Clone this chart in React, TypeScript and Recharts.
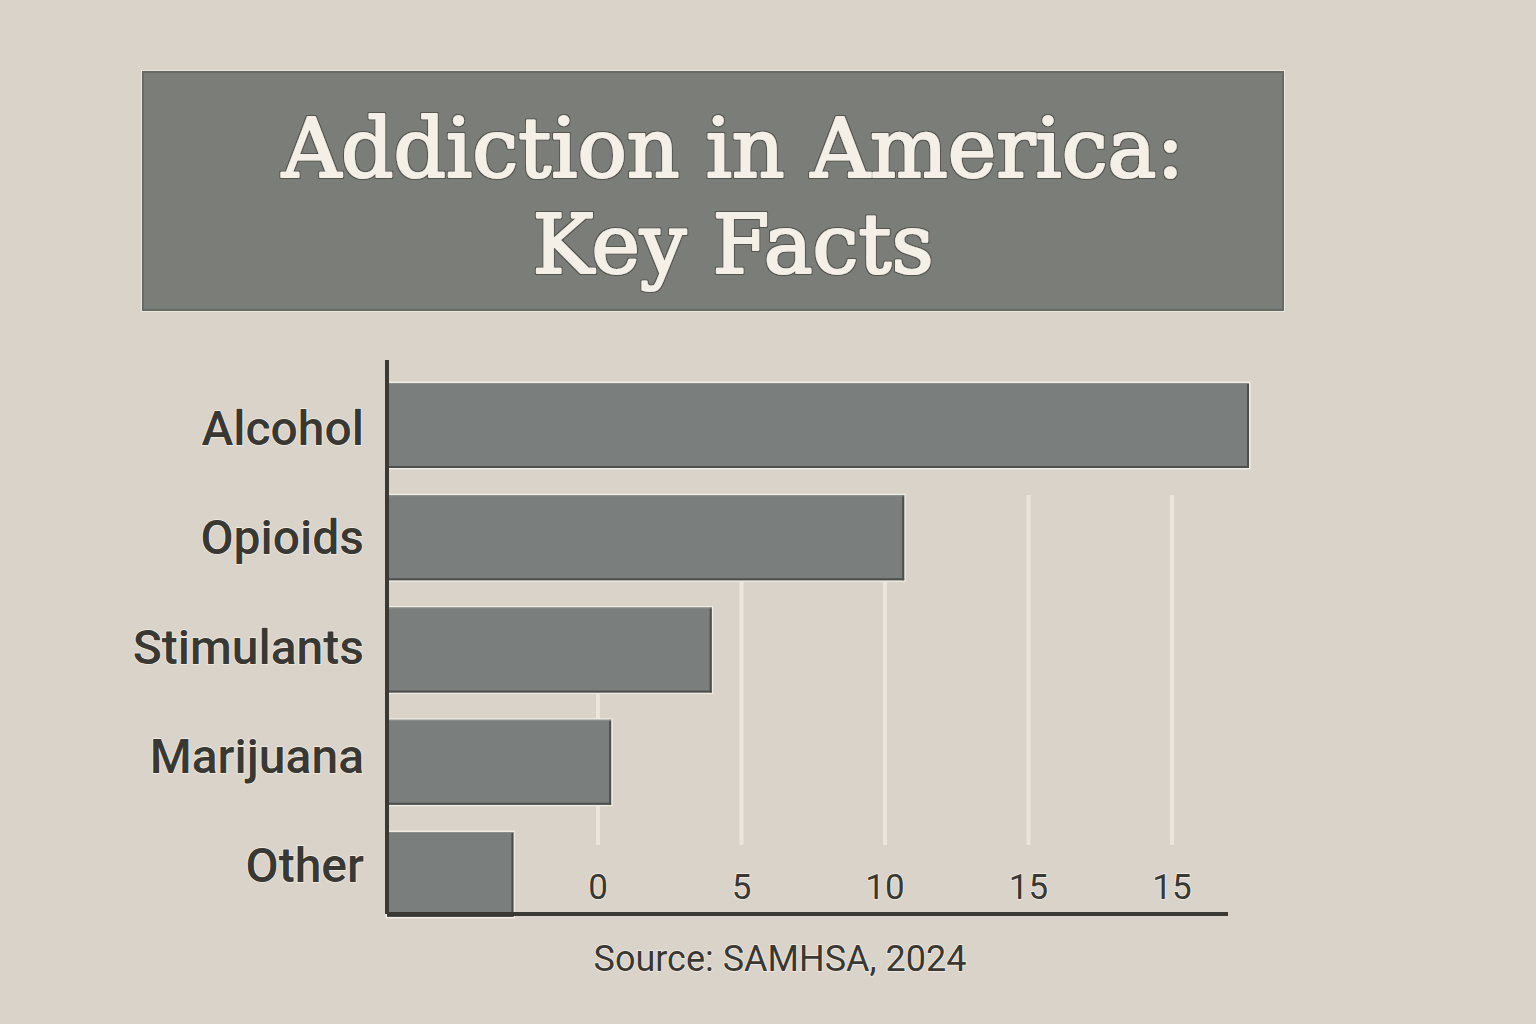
import React from 'react';
import { BarChart, Bar, XAxis, YAxis, CartesianGrid } from 'recharts';

// ---- data ----
const categories = ['Alcohol', 'Opioids', 'Stimulants', 'Marijuana', 'Other'];
const values = [30, 18, 11.3, 7.8, 4.4];
const tickValues = [0, 5, 10, 15, 20];
const tickLabels = ['0', '5', '10', '15', '15'];
const titleLines = ['Addiction in America:', 'Key Facts'];
const sourceNote = 'Source: SAMHSA, 2024';

const rows = categories.map((name, i) => ({ name, value: values[i] }));

// ---- styling ----
const PAGE_BG = '#d9d3c9';
const PANEL_BG = '#7b7d78';
const BAR_FILL = '#7a7e7c';
const BAR_EDGE = '#4d4f4c';
const BAR_HALO = '#f1ede5';
const INK = '#3a3833';
const AXIS_INK = '#3b3934';
const GRID_INK = '#ebe6dd';
const HALO = '#f2eee6';
const TITLE_INK = '#f4f0e7';
const SANS = 'Roboto, "Noto Sans", sans-serif';
const SERIF = '"DejaVu Serif", "Liberation Serif", serif';

// each grid line starts a little lower, stepping down under the longer bars
const GRID_TOP_INSETS = [332, 220, 220, 135, 135];
const GRID_BOTTOM_INSET = 69;

function EmbossedBar(props: any) {
  const { x, y, width, height } = props;
  if (!width || width <= 0) return null;
  return (
    <g>
      <rect x={x - 1.5} y={y - 1.5} width={width + 3} height={height + 3} fill={BAR_HALO} />
      <rect x={x} y={y} width={width} height={height} fill={BAR_FILL} />
      <rect x={x + width - 2} y={y} width={2} height={height} fill={BAR_EDGE} />
      <rect x={x} y={y + height - 2} width={width} height={2} fill={BAR_EDGE} />
      <rect x={x} y={y} width={width} height={1} fill="#8b8f8c" />
    </g>
  );
}

function GridLine(props: any) {
  const { x1, x2, y1, y2, index } = props;
  const inset = GRID_TOP_INSETS[index] ?? GRID_TOP_INSETS[GRID_TOP_INSETS.length - 1];
  return (
    <line
      key={`grid-${index}`}
      x1={x1}
      x2={x2}
      y1={y1 + inset}
      y2={y2 - GRID_BOTTOM_INSET}
      stroke={GRID_INK}
      strokeWidth={4}
    />
  );
}

function ValueTick(props: any) {
  const { x, y, payload } = props;
  const idx = tickValues.indexOf(payload.value);
  return (
    <text
      x={x}
      y={y - 15.5}
      textAnchor="middle"
      fontFamily={SANS}
      fontSize={35}
      fill={INK}
      stroke={HALO}
      strokeWidth={1.5}
      paintOrder="stroke"
    >
      {tickLabels[idx]}
    </text>
  );
}

export default function App() {
  return (
    <div
      style={{
        position: 'absolute',
        left: 0,
        top: 0,
        width: 1536,
        height: 1024,
        background: PAGE_BG,
        overflow: 'hidden',
      }}
    >
      {/* title panel */}
      <div
        style={{
          position: 'absolute',
          left: 142,
          top: 71,
          width: 1142,
          height: 240,
          boxSizing: 'border-box',
          background: PANEL_BG,
          border: '2px solid #686a66',
          outline: '1px solid #ebe6dc',
        }}
      />

      <div style={{ position: 'absolute', left: 0, top: 0 }}>
        <BarChart
          width={1536}
          height={1024}
          layout="vertical"
          data={rows}
          margin={{ top: 360, right: 308, bottom: 80, left: 0 }}
          barSize={85}
        >
          <CartesianGrid
            xAxisId="lbl"
            yAxisId="names"
            horizontal={false}
            vertical={GridLine}
            syncWithTicks
          />
          <XAxis
            xAxisId="val"
            type="number"
            hide
            domain={[0, 30]}
            padding={{ left: 0, right: -21 }}
          />
          <XAxis
            xAxisId="lbl"
            type="number"
            domain={[0, 20]}
            ticks={tickValues}
            interval={0}
            allowDataOverflow
            padding={{ left: 211, right: 56 }}
            height={30}
            axisLine={{ stroke: AXIS_INK, strokeWidth: 4 }}
            tickLine={false}
            tickSize={0}
            tickMargin={0}
            tick={ValueTick}
          />
          <YAxis
            yAxisId="bars"
            type="category"
            dataKey="name"
            hide
            width={0}
            padding={{ top: 9, bottom: -16.25 }}
          />
          <YAxis
            yAxisId="names"
            type="category"
            dataKey="name"
            width={387}
            interval={0}
            padding={{ top: 13.4, bottom: -5.6 }}
            axisLine={{ stroke: AXIS_INK, strokeWidth: 4 }}
            tickLine={false}
            tickSize={0}
            tickMargin={23}
            tick={{
              fontFamily: SANS,
              fontSize: 48,
              fontWeight: 500,
              fill: INK,
              stroke: HALO,
              strokeWidth: 1.5,
              paintOrder: 'stroke',
            }}
          />
          <Bar
            dataKey="value"
            xAxisId="val"
            yAxisId="bars"
            fill={BAR_FILL}
            shape={EmbossedBar}
            isAnimationActive={false}
          />
        </BarChart>
      </div>

      {/* title and source text */}
      <svg
        width={1536}
        height={1024}
        style={{ position: 'absolute', left: 0, top: 0, pointerEvents: 'none' }}
      >
        <defs>
          <filter id="titleEdge" x="-5%" y="-20%" width="110%" height="140%">
            <feMorphology in="SourceAlpha" operator="dilate" radius="1.2" result="grown" />
            <feFlood floodColor="#4f504a" floodOpacity="0.85" />
            <feComposite in2="grown" operator="in" result="edge" />
            <feMerge>
              <feMergeNode in="edge" />
              <feMergeNode in="SourceGraphic" />
            </feMerge>
          </filter>
        </defs>
        <text
          x={733}
          y={177}
          textAnchor="middle"
          fontFamily={SERIF}
          fontSize={82}
          fill={TITLE_INK}
          stroke={TITLE_INK}
          strokeWidth={2.2}
          strokeLinejoin="round"
          filter="url(#titleEdge)"
        >
          {titleLines.map((line, i) => (
            <tspan key={line} x={733} dy={i === 0 ? 0 : 96}>
              {line}
            </tspan>
          ))}
        </text>
        <text
          x={780}
          y={970.5}
          textAnchor="middle"
          fontFamily={SANS}
          fontSize={36}
          fill={INK}
          stroke={HALO}
          strokeWidth={1.5}
          paintOrder="stroke"
        >
          {sourceNote}
        </text>
      </svg>
    </div>
  );
}
